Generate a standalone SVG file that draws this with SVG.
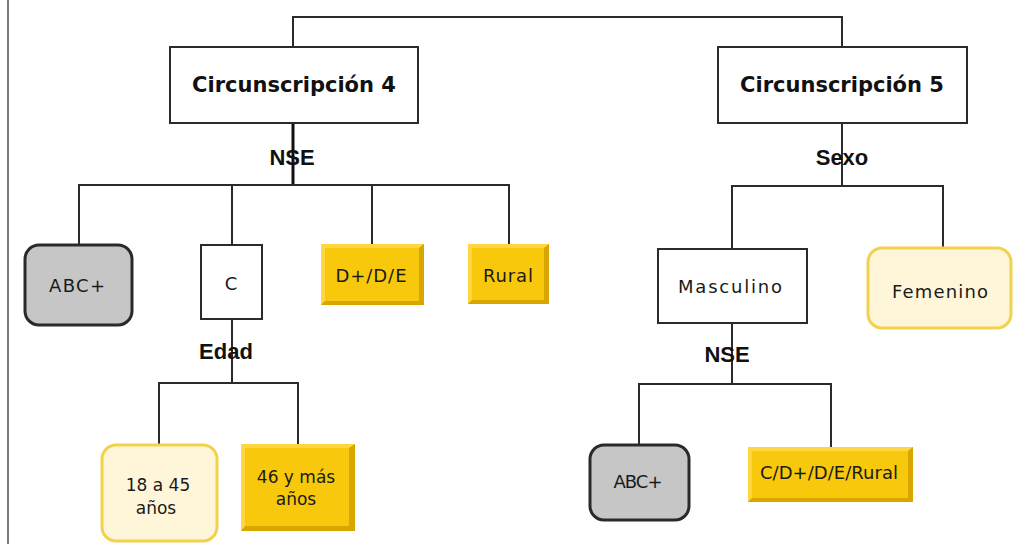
<svg xmlns="http://www.w3.org/2000/svg" width="1013" height="544" viewBox="0 0 1013 544">
<style>
.line{fill:none;stroke:#2b2b2b;stroke-width:2}
.thick{fill:none;stroke:#111;stroke-width:3}
.wbox{fill:#fff;stroke:#2b2b2b;stroke-width:2}
.gbox{fill:#c6c6c6;stroke:#2a2a2a;stroke-width:3}
.lybox{fill:#fff6da;stroke:#f2d24c;stroke-width:3}
.ybox{fill:#f8c80c}
.ydark{fill:#d9a600}
.ylight{fill:#ffd640}
.title{font-family:"DejaVu Sans",sans-serif;font-weight:bold;font-size:21px;fill:#111;text-anchor:middle}
.lbl{font-family:"Liberation Sans",Arial,sans-serif;font-weight:bold;font-size:22px;fill:#111;text-anchor:middle}
.sm{font-family:"DejaVu Sans",sans-serif;font-size:18px;fill:#1a1a1a;text-anchor:middle}
</style>
<rect x="0" y="0" width="1013" height="544" fill="#fff"/>
<line x1="8" y1="0" x2="8" y2="544" stroke="#7a7a7a" stroke-width="2"/>
<g id="connectors">
<path class="line" d="M293,47 V17 H842 V47"/>
<path class="thick" d="M293,123 V185"/>
<path class="line" d="M79,245 V185 H509 V244 M232,185 V245 M372,185 V244"/>
<path class="line" d="M842,123 V186"/>
<path class="line" d="M732,249 V186 H943 V248"/>
<path class="line" d="M732,323 V384"/>
<path class="line" d="M639,445 V384 H831 V447"/>
<path class="line" d="M232,319 V383"/>
<path class="line" d="M159,445 V383 H298 V444"/>
<text class="lbl" x="292" y="165">NSE</text>
<text class="lbl" x="842" y="165">Sexo</text>
<text class="lbl" x="226" y="359">Edad</text>
<text class="lbl" x="727" y="362">NSE</text>
</g>
<g id="circ4">
<rect class="wbox" x="170" y="47" width="248" height="76"/>
<text class="title" x="294" y="92">Circunscripción 4</text>
</g>
<g id="circ5">
<rect class="wbox" x="718" y="47" width="249" height="76"/>
<text class="title" x="842" y="92">Circunscripción 5</text>
</g>
<g id="abc1">
<rect class="gbox" x="25" y="245" width="107" height="80" rx="14"/>
<text class="sm" x="77" y="292" textLength="56" lengthAdjust="spacing">ABC+</text>
</g>
<g id="c">
<rect class="wbox" x="201" y="245" width="61" height="74"/>
<text class="sm" x="231" y="290">C</text>
</g>
<g id="dde">
<rect class="ybox" x="321" y="244" width="103" height="61"/>
<polygon class="ylight" points="321,244 424,244 420,248 325,248 325,301 321,305"/>
<polygon class="ydark" points="424,244 424,305 321,305 325,301 419,301 419,248"/>
<text class="sm" x="371" y="282" textLength="71" lengthAdjust="spacing">D+/D/E</text>
</g>
<g id="rural">
<rect class="ybox" x="468" y="244" width="81" height="60"/>
<polygon class="ylight" points="468,244 549,244 545,248 472,248 472,300 468,304"/>
<polygon class="ydark" points="549,244 549,304 468,304 472,300 544,300 544,248"/>
<text class="sm" x="508" y="282" textLength="50" lengthAdjust="spacing">Rural</text>
</g>
<g id="masculino">
<rect class="wbox" x="658" y="249" width="149" height="74"/>
<text class="sm" x="730" y="293" textLength="104" lengthAdjust="spacing">Masculino</text>
</g>
<g id="femenino">
<rect class="lybox" x="868" y="248" width="143" height="80" rx="14"/>
<text class="sm" x="940" y="298" textLength="96" lengthAdjust="spacing">Femenino</text>
</g>
<g id="edad18">
<rect class="lybox" x="102" y="445" width="115" height="96" rx="14"/>
<text class="sm" x="158" y="491" style="font-size:17px">18 a 45</text>
<text class="sm" x="156" y="514" style="font-size:17px">años</text>
</g>
<g id="edad46">
<rect class="ybox" x="241" y="444" width="114" height="87"/>
<polygon class="ylight" points="241,444 355,444 351,448 245,448 245,527 241,531"/>
<polygon class="ydark" points="355,444 355,531 241,531 245,526 349,526 349,448"/>
<text class="sm" x="296" y="483" style="font-size:17px">46 y más</text>
<text class="sm" x="296" y="505" style="font-size:17px">años</text>
</g>
<g id="abc2">
<rect class="gbox" x="590" y="445" width="99" height="75" rx="14"/>
<text class="sm" x="638" y="488" textLength="49" lengthAdjust="spacing">ABC+</text>
</g>
<g id="cdr">
<rect class="ybox" x="748" y="447" width="165" height="55"/>
<polygon class="ylight" points="748,447 913,447 909,451 752,451 752,498 748,502"/>
<polygon class="ydark" points="913,447 913,502 748,502 752,498 908,498 908,451"/>
<text class="sm" x="829" y="479" textLength="138" lengthAdjust="spacing">C/D+/D/E/Rural</text>
</g>
</svg>
